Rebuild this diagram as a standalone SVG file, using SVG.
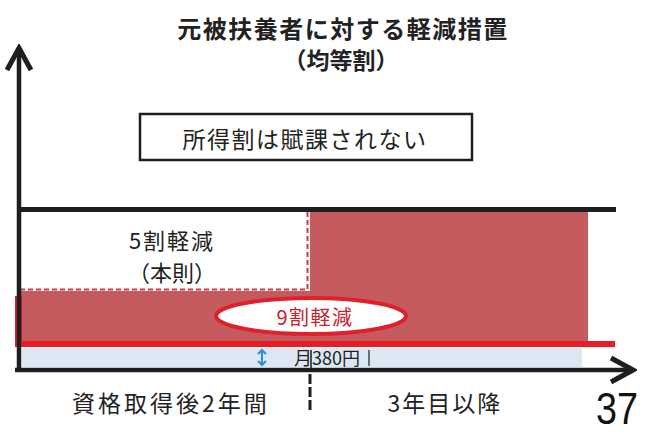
<svg xmlns="http://www.w3.org/2000/svg" width="645" height="440" viewBox="0 0 645 440">
<style>
.jp{font-family:"Noto Sans CJK JP","Noto Sans",sans-serif;fill:#222}
.c{text-anchor:middle}
.ax{stroke:#1e1e1e;stroke-width:4.5;fill:none}
</style>
<defs>
<marker id="chev" viewBox="-26 -16 30 32" refX="0" refY="0" markerWidth="30" markerHeight="32" markerUnits="userSpaceOnUse" orient="auto">
<path d="M -22 -12 L 0 0 L -22 12" fill="none" stroke="#1e1e1e" stroke-width="5" stroke-linejoin="miter"/>
</marker>
</defs>
<rect width="645" height="440" fill="#ffffff"/>
<g id="title">
<text class="jp c" x="343" y="38" font-size="24" font-weight="bold" letter-spacing="1.5">元被扶養者に対する軽減措置</text>
<text class="jp c" x="341" y="69" font-size="23" font-weight="bold">（均等割）</text>
</g>
<g id="box-shotoku">
<rect x="140" y="114" width="332" height="46" fill="#fff" stroke="#1e1e1e" stroke-width="2.5"/>
<text class="jp c" x="305" y="148" font-size="23" letter-spacing="1.5">所得割は賦課されない</text>
</g>
<g id="region-9wari">
<rect x="310" y="212" width="278" height="129" fill="#c55a5f"/>
<rect x="18" y="291" width="292" height="50" fill="#c55a5f"/>
<path d="M 20 289.5 H 307.5 V 212" fill="none" stroke="#cc3a44" stroke-width="2" stroke-dasharray="5 3"/>
</g>
<g id="region-5wari">
<text class="jp c" x="172" y="249" font-size="22" letter-spacing="2">5割軽減</text>
<text class="jp c" x="172" y="281" font-size="22">（本則）</text>
</g>
<g id="lines">
<rect x="18" y="207" width="598" height="5" fill="#1e1e1e"/>
<rect x="22" y="348" width="560" height="19" fill="#dbe8f4"/>
<rect x="18" y="341" width="597" height="6" fill="#e81c24"/>
<rect x="15" y="296" width="7" height="51" fill="#e81c24"/>
</g>
<g id="label-9wari">
<ellipse cx="311" cy="316" rx="95" ry="18" fill="#ffffff" stroke="#e0202a" stroke-width="4"/>
<text class="c" x="315" y="325" font-size="20" letter-spacing="1.5" font-family="Noto Sans CJK JP, sans-serif" fill="#c8202a">9割軽減</text>
</g>
<g id="label-380">
<path d="M 262 350 V 365 M 258 354 L 262 350 L 266 354 M 258 361 L 262 365 L 266 361" fill="none" stroke="#2b8fd6" stroke-width="2"/>
<line x1="311" y1="350" x2="311" y2="370" stroke="#1e1e1e" stroke-width="1.5"/>
<line x1="369" y1="350" x2="369" y2="366" stroke="#1e1e1e" stroke-width="1.2"/>
<text class="jp" x="294" y="365" font-size="18">月380円</text>
</g>
<g id="connectors">
<line class="ax" x1="19" y1="372" x2="19" y2="48" marker-end="url(#chev)"/>
<line class="ax" x1="15" y1="370" x2="633" y2="370" marker-end="url(#chev)"/>
<line x1="310" y1="374" x2="310" y2="413" stroke="#1e1e1e" stroke-width="3" stroke-dasharray="10 3"/>
</g>
<g id="x-labels">
<text class="jp c" x="171" y="412" font-size="23" letter-spacing="3">資格取得後2年間</text>
<text class="jp c" x="445" y="412" font-size="23" letter-spacing="2">3年目以降</text>
</g>
<text x="596" y="424" font-family="Liberation Sans, Arial, sans-serif" font-size="44" fill="#111" textLength="42" lengthAdjust="spacingAndGlyphs">37</text>
</svg>
